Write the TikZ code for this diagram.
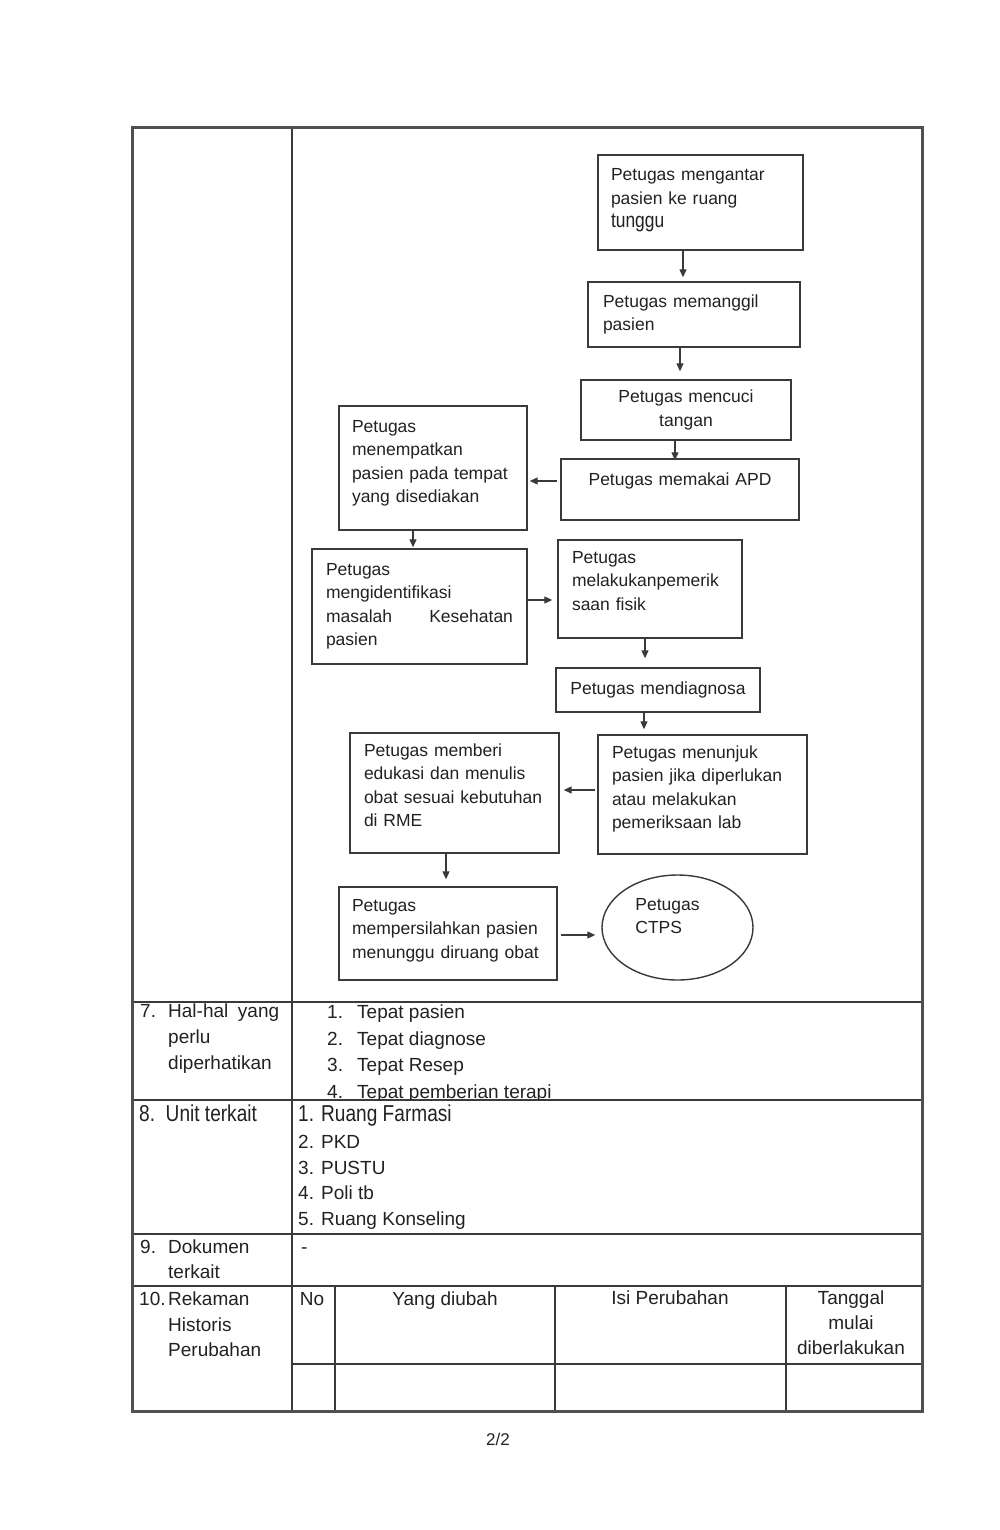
\documentclass[tikz,border=0pt]{standalone}
\usepackage{fontspec}
\setmainfont{Liberation Sans}
\newfontfamily\narrowfont[FakeStretch=0.83]{Liberation Sans}
\usetikzlibrary{arrows.meta,shapes.geometric}
\definecolor{txt}{HTML}{222222}
\definecolor{linec}{HTML}{3A3A3A}
\definecolor{framec}{HTML}{505050}
\begin{document}
\begin{tikzpicture}[x=1pt,y=-1pt,
  box/.style={draw=linec, line width=1.4pt, rectangle, inner sep=0pt, text=txt,
    font=\fontsize{17.5}{23.5}\selectfont},
  arr/.style={draw=linec, line width=1.2pt, -{Triangle[length=8pt,width=7pt]}},
  framel/.style={draw=framec, line width=3pt},
  gridl/.style={draw=linec, line width=1.3pt},
  tt/.style={anchor=west, inner sep=0pt, text=txt, text height=14pt, text depth=4pt,
    font=\fontsize{19}{26}\selectfont},
  tc/.style={anchor=center, inner sep=0pt, text=txt, text height=14pt, text depth=4pt,
    font=\fontsize{19}{26}\selectfont},
  nt/.style={anchor=west, inner sep=0pt, text=txt, text height=17pt, text depth=5pt,
    font=\narrowfont\fontsize{23}{26}\selectfont}]
\useasboundingbox[fill=white] (0,0) rectangle (1000,1530);

% ---------- flowchart ----------
\node[box, minimum width=205pt, minimum height=95pt, text width=179pt, align=left, text depth=56pt]
  (b1) at (700.5,202.5) {Petugas mengantar\\pasien ke ruang\\{\narrowfont\fontsize{21}{23}\selectfont tunggu}};
\node[box, minimum width=212pt, minimum height=65pt, text width=182pt, align=left]
  (b2) at (694,314.5) {Petugas memanggil\\pasien};
\node[box, minimum width=210pt, minimum height=60pt, text width=190pt, align=center]
  (b3) at (686,410) {Petugas mencuci\\tangan};
\node[box, minimum width=238pt, minimum height=61pt, text width=220pt, align=center, text depth=20pt]
  (b4) at (680,489.5) {Petugas memakai APD};
\node[box, minimum width=188pt, minimum height=124pt, text width=162pt, align=left, text depth=84pt]
  (b5) at (433,468) {Petugas\\menempatkan\\pasien pada tempat\\yang disediakan};
\node[box, minimum width=215pt, minimum height=115pt, text width=187pt, align=left]
  (b6) at (419.5,606.5) {Petugas\\mengidentifikasi\\masalah\hfill Kesehatan\\pasien};
\node[box, minimum width=184pt, minimum height=98pt, text width=156pt, align=left, text depth=64pt]
  (b7) at (650,589) {Petugas\\melakukanpemerik\\saan fisik};
\node[box, minimum width=204pt, minimum height=44pt, text width=190pt, align=center]
  (b8) at (658,690) {Petugas mendiagnosa};
\node[box, minimum width=209pt, minimum height=119pt, text width=181pt, align=left, text depth=85pt]
  (b9) at (702.5,794.5) {Petugas menunjuk\\pasien jika diperlukan\\atau melakukan\\pemeriksaan lab};
\node[box, minimum width=209pt, minimum height=120pt, text width=181pt, align=left, text depth=86pt]
  (b10) at (454.5,793) {Petugas memberi\\edukasi dan menulis\\obat sesuai kebutuhan\\di RME};
\node[box, minimum width=218pt, minimum height=93pt, text width=192pt, align=left, text depth=57pt]
  (b11) at (448,933.5) {Petugas\\mempersilahkan pasien\\menunggu diruang obat};
\node[box, ellipse, minimum width=151pt, minimum height=105pt, align=left, text depth=23pt]
  (ctps) at (677.5,927.5) {Petugas\hspace*{20pt}\\CTPS};

% arrows
\draw[arr, shorten >=4pt] ([xshift=-17.5pt]b1.south) coordinate (p1) -- (p1 |- b2.north);
\draw[arr, shorten >=8pt] ([xshift=-14pt]b2.south) coordinate (p2) -- (p2 |- b3.north);
\draw[arr, shorten >=-2pt] ([xshift=-11pt]b3.south) coordinate (p3) -- (p3 |- b4.north);
\draw[arr, shorten <=3pt, shorten >=2pt] ([yshift=8.5pt]b4.west) coordinate (p4) -- (p4 -| b5.east);
\draw[arr, shorten >=1pt] ([xshift=-20pt]b5.south) coordinate (p5) -- (p5 |- b6.north);
\draw[arr, shorten >=5pt] ([yshift=6.5pt]b6.east) coordinate (p6) -- (p6 -| b7.west);
\draw[arr, shorten >=9pt] ([xshift=-5pt]b7.south) coordinate (p7) -- (p7 |- b8.north);
\draw[arr, shorten >=5pt] ([xshift=-14pt]b8.south) coordinate (p8) -- (p8 |- b9.north);
\draw[arr, shorten <=2pt, shorten >=4pt] ([yshift=4.5pt]b9.west) coordinate (p9) -- (p9 -| b10.east);
\draw[arr, shorten >=7pt] ([xshift=-8.5pt]b10.south) coordinate (p10) -- (p10 |- b11.north);
\draw[arr, shorten <=3pt, shorten >=6pt] ([yshift=-1.5pt]b11.east) coordinate (p11) -- (p11 -| ctps.west);

% ---------- table ----------
\draw[gridl] (292,128) -- (292,1411);
\draw[gridl] (132,1002) -- (922,1002);
\draw[gridl] (132,1100) -- (922,1100);
\draw[gridl] (132,1234) -- (922,1234);
\draw[gridl] (132,1286) -- (922,1286);
\draw[gridl] (292,1364) -- (922,1364);
\draw[gridl] (335,1286) -- (335,1411);
\draw[gridl] (555,1286) -- (555,1411);
\draw[gridl] (786,1286) -- (786,1411);
\draw[framel] (132,128) rectangle (922,1411);

% row 7
\node[tt] (r7n) at (140,1012) {7.};
\node[tt] (r7a) at (168,1012) {\hbox to 111pt{Hal-hal\hfill yang}};
\node[tt] (r7b) at (168,1038) {perlu};
\node[tt] (r7c) at (168,1064) {diperhatikan};
\begin{scope}
\clip (292,1002) rectangle (922,1099);
\node[tt] (i1n) at (327,1013) {1.};
\node[tt] (i1) at (357,1013) {Tepat pasien};
\node[tt] (i2n) at (327,1040) {2.};
\node[tt] (i2) at (357,1040) {Tepat diagnose};
\node[tt] (i3n) at (327,1066) {3.};
\node[tt] (i3) at (357,1066) {Tepat Resep};
\node[tt] (i4n) at (327,1093) {4.};
\node[tt] (i4) at (357,1093) {Tepat pemberian terapi};
\end{scope}

% row 8
\node[nt] (r8) at (139,1115) {8.\ \ Unit terkait};
\node[nt] (u1) at (298,1115) {1. Ruang Farmasi};
\node[tt] (u2) at (298,1143) {2. PKD};
\node[tt] (u3) at (298,1169) {3. PUSTU};
\node[tt] (u4) at (298,1194) {4. Poli tb};
\node[tt] (u5) at (298,1220) {5. Ruang Konseling};

% row 9
\node[tt] (r9n) at (140,1248) {9.};
\node[tt] (r9a) at (168,1248) {Dokumen};
\node[tt] (r9b) at (168,1273) {terkait};
\node[tt] (r9v) at (301,1248) {-};

% row 10
\node[tt] (r10n) at (139,1300) {10.};
\node[tt] (r10a) at (168,1300) {Rekaman};
\node[tt] (r10b) at (168,1326) {Historis};
\node[tt] (r10c) at (168,1351) {Perubahan};
\node[tc] (hno) at (312,1300) {No};
\node[tc] (hyd) at (445,1300) {Yang diubah};
\node[tc] (hisi) at (670,1299) {Isi Perubahan};
\node[tc] (htg1) at (851,1299) {Tanggal};
\node[tc] (htg2) at (851,1324) {mulai};
\node[tc] (htg3) at (851,1349) {diberlakukan};

% page number
\node[tc, font=\fontsize{17}{20}\selectfont] (pg) at (498,1440) {2/2};
\end{tikzpicture}
\end{document}
